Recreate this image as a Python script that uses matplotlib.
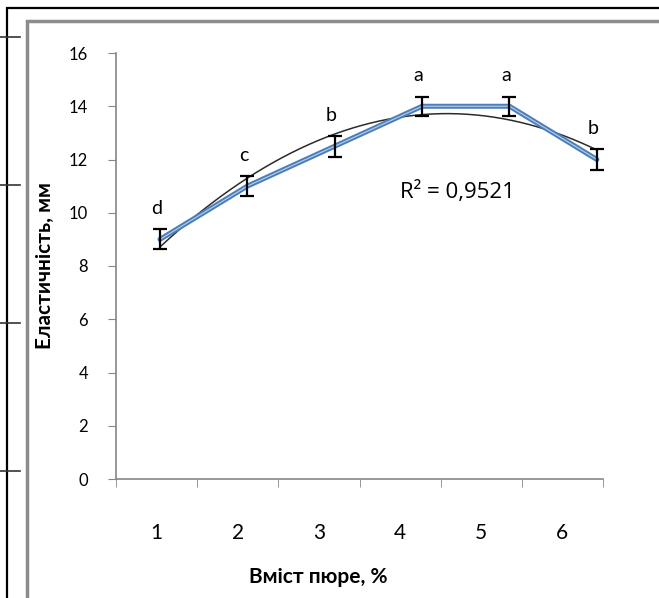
import numpy as np
import matplotlib.pyplot as plt
from matplotlib.lines import Line2D
from matplotlib.patches import Rectangle

# data
puree = [1, 2, 3, 4, 5, 6]              # вміст пюре, %
elast = [9.0, 11.0, 12.5, 14.0, 14.0, 12.0]
err = [0.38, 0.38, 0.4, 0.35, 0.35, 0.4]
groups = ['d', 'c', 'b', 'a', 'a', 'b']
r2_text = 'R² = 0,9521'

plt.rcParams['font.family'] = ['Lato', 'DejaVu Sans']

fig = plt.figure(figsize=(6.59, 5.98), dpi=100)

# frames of the original (page border + chart area border)
fig.patches.append(Rectangle((7/659, -0.1), 1.2, 1 - 8/598 + 0.1, transform=fig.transFigure,
                             fill=False, edgecolor='black', lw=1.6))
fig.patches.append(Rectangle((27/659, -0.1), 1.2, 1 - 21/598 + 0.1, transform=fig.transFigure,
                             fill=False, edgecolor='#8c8c8c', lw=2.5))
# stray ticks from the page behind
for yp in [37, 185, 323, 471]:
    fig.add_artist(Line2D([0, 20/659], [1 - yp/598] * 2, transform=fig.transFigure,
                          color='#333333', lw=1.2))

ax = fig.add_axes([116/659, 1 - 479/598, 487/659, 426/598])
ax.set_xlim(0.5, 6.5)
ax.set_ylim(0, 16)
for s in ['top', 'right']:
    ax.spines[s].set_visible(False)
for s in ['left', 'bottom']:
    ax.spines[s].set_color('#868686')
    ax.spines[s].set_linewidth(1.2)

ax.set_yticks(np.arange(0, 17, 2))
ax.tick_params(axis='y', direction='out', length=6, color='#868686', labelsize=12, pad=14)
ax.set_xticks(puree)
ax.set_xticklabels([str(p) for p in puree])
ax.set_xticks(np.arange(0.5, 7, 1), minor=True)
ax.tick_params(axis='x', which='major', length=0, labelsize=15, pad=32)
ax.tick_params(axis='x', which='minor', direction='out', length=6, color='#868686')

# series sits on its own x scale (as in the original Excel chart)
ax2 = ax.twiny()
ax2.set_xlim(0.497, 6.07)
ax2.axis('off')

coef = np.polyfit(puree, elast, 2)
xs = np.linspace(1, 6, 200)
ax2.plot(xs, np.polyval(coef, xs), color='#2b2b2b', lw=1.1, zorder=2)
ax2.plot(puree, elast, color='#4a7ebb', lw=3.6, solid_capstyle='round', zorder=3)
ax2.plot(puree, elast, color='#b9cfea', lw=0.8, zorder=4)
ax2.errorbar(puree, elast, yerr=err, fmt='none', ecolor='black', elinewidth=1.6,
             capsize=5, capthick=1.6, zorder=5)
for x, y, g in zip(puree, elast, groups):
    ax2.text(x - 0.04, y + 1.15, g, ha='center', va='center', fontsize=14)
ax2.set_ylim(0, 16)

ax.text(400/659, 1 - 192/598, r2_text, transform=fig.transFigure, fontsize=16,
        ha='left', va='center', family=['Open Sans', 'DejaVu Sans'])

fig.text(318/659, 1 - 577/598, 'Вміст пюре, %', ha='center', va='center',
         fontsize=15, fontweight='bold')
fig.text(45/659, 1 - 266/598, 'Еластичність, мм', ha='center', va='center',
         rotation=90, fontsize=15, fontweight='bold')

fig.savefig('out.png', dpi=100, facecolor='white')
